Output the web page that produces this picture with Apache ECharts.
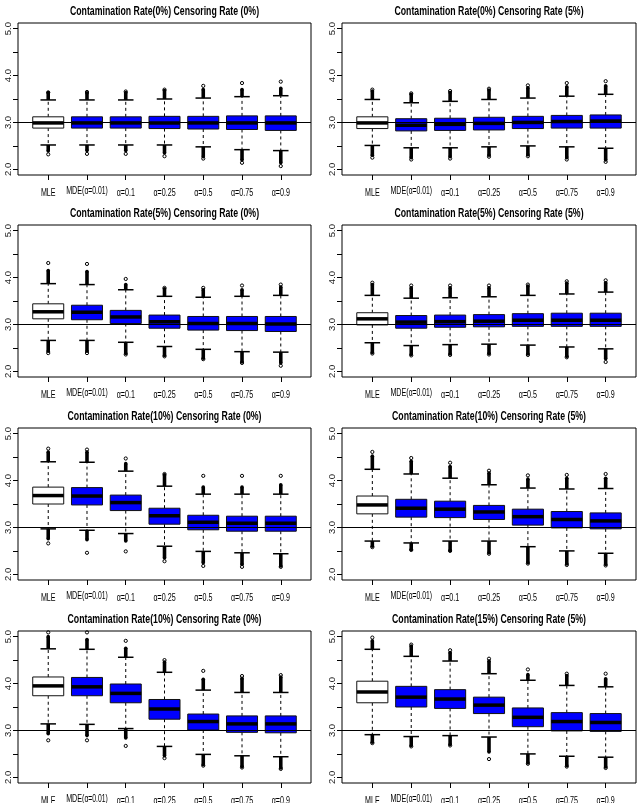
<!DOCTYPE html>
<html>
<head>
<meta charset="utf-8">
<script src="https://cdn.jsdelivr.net/npm/echarts@6/dist/echarts.min.js"></script>
<style>
html, body { margin: 0; padding: 0; background: #fff; }
#main { width: 641px; height: 803px; }
</style>
</head>
<body>
<div id="main"></div>
<script>
// categories and axis ticks
var xLabels = ['MLE', 'MDE(α=0.01)', 'α=0.1', 'α=0.25', 'α=0.5', 'α=0.75', 'α=0.9'];
var xTicks = [1, 2, 3, 4, 5, 6, 7];
var yTicks = [2, 2.5, 3, 3.5, 4, 4.5, 5];
var yLabels = [2, 3, 4, 5];
var refValue = 3;
var yMin = 1.88, yMax = 5.12;

var titles = [
	'Contamination Rate(0%) Censoring Rate (0%)',
	'Contamination Rate(0%) Censoring Rate (5%)',
	'Contamination Rate(5%) Censoring Rate (0%)',
	'Contamination Rate(5%) Censoring Rate (5%)',
	'Contamination Rate(10%) Censoring Rate (0%)',
	'Contamination Rate(10%) Censoring Rate (5%)',
	'Contamination Rate(10%) Censoring Rate (0%)',
	'Contamination Rate(15%) Censoring Rate (5%)'
];

// boxes: [lower whisker, Q1, median, Q3, upper whisker]
// loOut: [end of dense lower outliers, lowest outlier]
// hiOut: [end of dense upper outliers, highest outlier]
var boxes1 = [[2.52, 2.88, 2.99, 3.12, 3.48], [2.52, 2.88, 2.99, 3.12, 3.48], [2.52, 2.88, 2.99, 3.12, 3.48], [2.52, 2.87, 2.99, 3.13, 3.50], [2.48, 2.86, 2.99, 3.13, 3.52], [2.42, 2.85, 2.99, 3.14, 3.55], [2.40, 2.83, 2.99, 3.14, 3.57]];
var loOut1 = [[2.39, 2.32], [2.40, 2.33], [2.40, 2.33], [2.35, 2.28], [2.27, 2.23], [2.20, 2.14], [2.14, 2.07]];
var hiOut1 = [[3.64, 3.64], [3.63, 3.65], [3.64, 3.66], [3.68, 3.70], [3.70, 3.78], [3.70, 3.84], [3.73, 3.87]];

var boxes2 = [[2.51, 2.87, 2.99, 3.12, 3.49], [2.46, 2.82, 2.94, 3.08, 3.42], [2.46, 2.83, 2.96, 3.09, 3.45], [2.48, 2.84, 2.98, 3.11, 3.49], [2.50, 2.87, 3.00, 3.13, 3.52], [2.48, 2.88, 3.02, 3.15, 3.56], [2.45, 2.88, 3.03, 3.16, 3.60]];
var loOut2 = [[2.30, 2.25], [2.25, 2.21], [2.27, 2.23], [2.30, 2.27], [2.31, 2.28], [2.25, 2.21], [2.20, 2.16]];
var hiOut2 = [[3.67, 3.70], [3.60, 3.62], [3.64, 3.67], [3.69, 3.72], [3.74, 3.79], [3.76, 3.84], [3.78, 3.88]];

var boxes3 = [[2.66, 3.12, 3.27, 3.44, 3.87], [2.66, 3.10, 3.26, 3.41, 3.85], [2.62, 3.02, 3.16, 3.30, 3.74], [2.53, 2.92, 3.06, 3.20, 3.60], [2.47, 2.88, 3.02, 3.17, 3.58], [2.42, 2.87, 3.02, 3.17, 3.60], [2.41, 2.85, 3.01, 3.17, 3.62]];
var loOut3 = [[2.43, 2.39], [2.43, 2.39], [2.38, 2.36], [2.34, 2.32], [2.28, 2.26], [2.20, 2.18], [2.18, 2.12]];
var hiOut3 = [[4.15, 4.31], [4.13, 4.29], [3.85, 3.97], [3.76, 3.78], [3.74, 3.78], [3.74, 3.83], [3.80, 3.85]];

var boxes4 = [[2.61, 2.99, 3.12, 3.25, 3.62], [2.55, 2.92, 3.05, 3.19, 3.56], [2.57, 2.94, 3.06, 3.20, 3.57], [2.58, 2.95, 3.07, 3.21, 3.59], [2.56, 2.96, 3.09, 3.23, 3.62], [2.52, 2.96, 3.09, 3.24, 3.65], [2.48, 2.96, 3.09, 3.24, 3.69]];
var loOut4 = [[2.40, 2.38], [2.36, 2.34], [2.37, 2.35], [2.38, 2.36], [2.37, 2.35], [2.32, 2.30], [2.27, 2.20]];
var hiOut4 = [[3.85, 3.89], [3.78, 3.83], [3.78, 3.83], [3.78, 3.83], [3.82, 3.85], [3.88, 3.92], [3.89, 3.94]];

var boxes5 = [[2.97, 3.50, 3.68, 3.86, 4.40], [2.94, 3.48, 3.67, 3.85, 4.39], [2.87, 3.36, 3.53, 3.69, 4.20], [2.60, 3.07, 3.25, 3.41, 3.88], [2.49, 2.95, 3.11, 3.26, 3.71], [2.46, 2.92, 3.09, 3.24, 3.71], [2.44, 2.92, 3.09, 3.24, 3.71]];
var loOut5 = [[2.76, 2.66], [2.74, 2.46], [2.71, 2.49], [2.35, 2.28], [2.25, 2.18], [2.21, 2.16], [2.18, 2.16]];
var hiOut5 = [[4.61, 4.68], [4.61, 4.66], [4.36, 4.47], [4.12, 4.14], [3.86, 4.10], [3.86, 4.10], [3.91, 4.10]];

var boxes6 = [[2.71, 3.29, 3.48, 3.67, 4.24], [2.67, 3.22, 3.41, 3.60, 4.14], [2.71, 3.21, 3.39, 3.56, 4.05], [2.71, 3.17, 3.33, 3.47, 3.91], [2.59, 3.05, 3.23, 3.39, 3.84], [2.50, 2.99, 3.17, 3.34, 3.82], [2.45, 2.97, 3.14, 3.31, 3.83]];
var loOut6 = [[2.60, 2.58], [2.53, 2.52], [2.51, 2.50], [2.46, 2.44], [2.25, 2.23], [2.22, 2.20], [2.21, 2.19]];
var hiOut6 = [[4.52, 4.61], [4.41, 4.48], [4.30, 4.38], [4.16, 4.21], [4.03, 4.11], [4.05, 4.12], [4.05, 4.14]];

var boxes7 = [[3.14, 3.74, 3.95, 4.14, 4.74], [3.13, 3.74, 3.93, 4.13, 4.73], [3.04, 3.59, 3.79, 3.99, 4.56], [2.66, 3.24, 3.46, 3.66, 4.24], [2.49, 3.01, 3.19, 3.35, 3.86], [2.46, 2.96, 3.14, 3.31, 3.81], [2.44, 2.95, 3.14, 3.31, 3.81]];
var loOut7 = [[2.93, 2.79], [2.89, 2.79], [2.84, 2.67], [2.46, 2.41], [2.27, 2.25], [2.23, 2.21], [2.20, 2.18]];
var hiOut7 = [[5.00, 5.09], [4.94, 5.09], [4.75, 4.91], [4.46, 4.50], [4.09, 4.27], [4.11, 4.16], [4.14, 4.18]];

var boxes8 = [[2.91, 3.59, 3.82, 4.05, 4.73], [2.87, 3.50, 3.71, 3.94, 4.58], [2.89, 3.47, 3.67, 3.87, 4.48], [2.86, 3.36, 3.54, 3.71, 4.21], [2.50, 3.08, 3.28, 3.48, 4.07], [2.45, 2.99, 3.19, 3.38, 3.96], [2.43, 2.98, 3.17, 3.36, 3.93]];
var loOut8 = [[2.75, 2.73], [2.68, 2.66], [2.70, 2.68], [2.54, 2.39], [2.31, 2.29], [2.25, 2.23], [2.22, 2.20]];
var hiOut8 = [[4.91, 4.98], [4.80, 4.83], [4.66, 4.71], [4.48, 4.53], [4.19, 4.30], [4.17, 4.21], [4.10, 4.21]];

var panels = [
	[boxes1, loOut1, hiOut1], [boxes2, loOut2, hiOut2],
	[boxes3, loOut3, hiOut3], [boxes4, loOut4, hiOut4],
	[boxes5, loOut5, hiOut5], [boxes6, loOut6, hiOut6],
	[boxes7, loOut7, hiOut7], [boxes8, loOut8, hiOut8]
];

// layout (pixels) of each plot frame
var colLeft = [18, 342];
var colWidth = [293, 294];
var rowTop = [23, 225, 428, 631];
var frameH = 152;

var BOX_WEX = 0.8;
var STAPLE_WEX = 0.5;
var boxFill = ['#ffffff', '#0000ff'];
var squeeze = 0.68;
var fontName = '"Liberation Sans", Arial, sans-serif';

function labelStyle(s) {
	var st = { fill: '#000', align: 'center', verticalAlign: 'middle',
		font: '10.5px ' + fontName };
	if (s.indexOf('MDE') === 0) {
		st.text = '{a|MDE(}{b|' + s.slice(4) + '}';
		st.rich = {
			a: { fontSize: 10.5, fontFamily: fontName, verticalAlign: 'middle', lineHeight: 12 },
			b: { fontSize: 10, fontFamily: fontName, verticalAlign: 'middle', lineHeight: 12 }
		};
	} else {
		st.text = s;
	}
	return st;
}

function renderBox(params, api) {
	var x = api.value(0);
	var lo = api.coord([x, api.value(1)]);
	var q1 = api.coord([x, api.value(2)]);
	var med = api.coord([x, api.value(3)]);
	var q3 = api.coord([x, api.value(4)]);
	var hi = api.coord([x, api.value(5)]);
	var loDense = api.coord([x, api.value(6)]);
	var loMin = api.coord([x, api.value(7)]);
	var hiDense = api.coord([x, api.value(8)]);
	var hiMax = api.coord([x, api.value(9)]);
	var base = api.coord([x, yMin]);
	var hw = api.size([BOX_WEX, 0])[0] / 2;
	var sw = hw * STAPLE_WEX;
	var cx = med[0];
	var fill = params.dataIndex === 0 ? boxFill[0] : boxFill[1];
	var dashed = { stroke: '#000', lineWidth: 1, lineDash: [3, 3] };
	var solid = { stroke: '#000', lineWidth: 1.5 };
	var streak = { stroke: '#000', lineWidth: 3.6 };
	var ring = { stroke: '#000', fill: 'none', lineWidth: 1 };
	var name = xLabels[params.dataIndex];
	return {
		type: 'group',
		children: [
			{ type: 'line', shape: { x1: cx, y1: q3[1], x2: cx, y2: hi[1] }, style: dashed },
			{ type: 'line', shape: { x1: cx, y1: q1[1], x2: cx, y2: lo[1] }, style: dashed },
			{ type: 'line', shape: { x1: cx, y1: hi[1], x2: cx, y2: hiDense[1] }, style: streak },
			{ type: 'line', shape: { x1: cx, y1: lo[1], x2: cx, y2: loDense[1] }, style: streak },
			{ type: 'circle', shape: { cx: cx, cy: hiDense[1], r: 1.8 }, style: { fill: '#000' } },
			{ type: 'circle', shape: { cx: cx, cy: loDense[1], r: 1.8 }, style: { fill: '#000' } },
			{ type: 'circle', shape: { cx: cx, cy: hiMax[1], r: 1.6 }, style: ring },
			{ type: 'circle', shape: { cx: cx, cy: loMin[1], r: 1.6 }, style: ring },
			{ type: 'line', shape: { x1: cx - sw, y1: hi[1], x2: cx + sw, y2: hi[1] }, style: solid },
			{ type: 'line', shape: { x1: cx - sw, y1: lo[1], x2: cx + sw, y2: lo[1] }, style: solid },
			{ type: 'rect', shape: { x: cx - hw, y: q3[1], width: hw * 2, height: q1[1] - q3[1] },
				style: { fill: fill, stroke: '#111', lineWidth: 1 } },
			{ type: 'line', shape: { x1: cx - hw, y1: med[1], x2: cx + hw, y2: med[1] },
				style: { stroke: '#000', lineWidth: 3.5 } },
			{ type: 'text', x: cx, y: base[1] + (params.dataIndex === 1 ? 16 : 18), scaleX: squeeze,
				style: labelStyle(name) }
		]
	};
}

var grids = [], xAxes = [], yAxes = [], series = [], graphics = [];
panels.forEach(function(p, i) {
	var col = i % 2, row = Math.floor(i / 2);
	grids.push({
		left: colLeft[col], top: rowTop[row], width: colWidth[col], height: frameH,
		show: true, borderColor: '#000', borderWidth: 1, backgroundColor: 'transparent'
	});
	xAxes.push({
		gridIndex: i, type: 'value', min: 0.22, max: 7.78,
		axisLine: { show: false }, splitLine: { show: false },
		axisTick: { show: true, customValues: xTicks, length: 5, lineStyle: { color: '#000' } },
		axisLabel: { show: false }
	});
	yAxes.push({
		gridIndex: i, type: 'value', min: yMin, max: yMax,
		axisLine: { show: false }, splitLine: { show: false },
		axisTick: { show: true, customValues: yTicks, length: 5, lineStyle: { color: '#000' } },
		axisLabel: {
			customValues: yLabels, rotate: 90, margin: 5, color: '#222', fontSize: 9.5,
			fontFamily: '"Liberation Sans", sans-serif',
			formatter: function(v) { return v.toFixed(1); }
		}
	});
	var data = p[0].map(function(b, k) {
		return [xTicks[k]].concat(b, p[1][k], p[2][k]);
	});
	series.push({
		type: 'custom', xAxisIndex: i, yAxisIndex: i, clip: false, silent: true,
		renderItem: renderBox, data: data,
		markLine: {
			silent: true, symbol: 'none', label: { show: false }, animation: false,
			lineStyle: { color: '#000', width: 1, type: 'solid' },
			data: [{ yAxis: refValue }]
		}
	});
	graphics.push({
		type: 'text', x: colLeft[col] + colWidth[col] / 2, y: rowTop[row] - 11.5, scaleX: 0.7,
		style: {
			text: titles[i], font: 'bold 12.5px ' + fontName,
			align: 'center', verticalAlign: 'middle', fill: '#000'
		}
	});
});

var chart = echarts.init(document.getElementById('main'));
chart.setOption({
	animation: false,
	backgroundColor: '#fff',
	grid: grids,
	xAxis: xAxes,
	yAxis: yAxes,
	series: series,
	graphic: graphics
});
</script>
</body>
</html>
